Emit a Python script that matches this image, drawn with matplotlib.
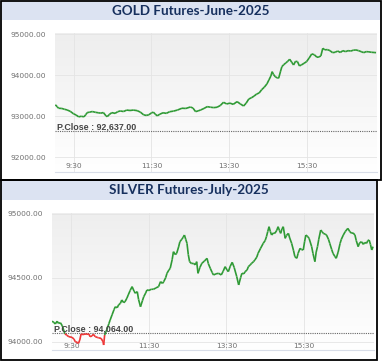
import numpy as np
import matplotlib
matplotlib.use('Agg')
import matplotlib.pyplot as plt
from matplotlib.collections import LineCollection
from matplotlib.patches import Rectangle

# minutes after 9:00
gold_t = [2, 5, 7, 12, 16, 20, 25, 30, 34, 38, 42, 46, 49, 51, 55, 59, 64, 68, 72, 76,
          80, 82, 85, 89, 94, 98, 102, 107, 112, 117, 122, 128, 133, 138, 142, 146, 150,
          153, 156, 159, 163, 168, 173, 178, 184, 190, 197, 203, 210, 214, 218, 222, 226,
          231, 236, 241, 246, 251, 256, 261, 266, 271, 276, 282, 287, 292, 296, 300, 304,
          308, 312, 316, 320, 324, 328, 331, 334, 336, 338, 341, 344, 346, 349, 351, 354,
          357, 360, 363, 366, 369, 372, 375, 378, 381, 385, 389, 393, 397, 401, 405, 408,
          411, 414, 417, 421, 425, 429, 433, 437, 441, 445, 449, 453, 457, 461, 465, 469,
          473, 477, 481, 485, 489, 493, 496]
gold_v = [93280, 93230, 93195, 93190, 93170, 93154, 93120, 93060, 93030, 92985, 93000,
          92985, 93040, 93088, 93100, 93115, 93095, 93085, 93075, 93090, 93010, 92990,
          93040, 93088, 93070, 93110, 93129, 93115, 93150, 93140, 93150, 93137, 93100,
          93035, 93020, 93035, 93080, 93100, 93050, 93010, 93050, 93085, 93070, 93110,
          93125, 93150, 93195, 93190, 93225, 93200, 93113, 93130, 93154, 93190, 93234,
          93220, 93210, 93219, 93260, 93340, 93300, 93320, 93290, 93356, 93300, 93250,
          93320, 93420, 93450, 93490, 93540, 93568, 93650, 93710, 93790, 93885, 93980,
          94088, 94020, 93960, 93935, 93927, 94100, 94210, 94260, 94300, 94340, 94390,
          94320, 94250, 94340, 94332, 94227, 94251, 94290, 94332, 94420, 94520, 94500,
          94439, 94445, 94471, 94658, 94620, 94625, 94600, 94551, 94560, 94590, 94555,
          94600, 94575, 94600, 94590, 94610, 94617, 94600, 94576, 94551, 94576, 94570,
          94560, 94555, 94551]
gold_close = 92637

silver_t = [0, 3, 5, 8, 10, 13, 16, 18, 20, 23, 26, 31, 34, 36, 39, 41, 43, 45, 48, 51,
            54, 57, 59, 62, 64, 67, 70, 72, 76, 79, 80, 81.5, 83.5, 85, 88, 90, 93, 96, 98,
            101, 103, 106, 108, 111, 113, 116, 118, 121, 124, 127, 129, 132, 134, 137, 140,
            142, 145, 147, 150, 154, 157, 161, 165, 168, 171, 173, 176, 178, 181, 183, 186,
            188, 191, 193, 196, 198, 201, 203, 205, 207, 209, 211, 213, 216, 219, 222, 224,
            226, 229, 232, 236, 240, 242, 245, 248, 250, 254, 258, 262, 265, 268, 271, 273,
            276, 279, 282, 286, 289, 292, 294, 297, 299, 302, 304, 307, 309, 312, 314, 317,
            319, 323, 327, 330, 332, 334, 336, 338, 340, 343, 345, 348, 350, 352, 354, 356,
            358, 361, 363, 366, 368, 371, 374, 376, 379, 381, 384, 386, 389, 391, 393, 396,
            398, 402, 404, 407, 409, 411, 413, 416, 418, 420, 423, 425, 428, 430, 433, 435,
            438, 440, 443, 446, 448, 451, 454, 458, 461, 464, 466, 469, 471, 474, 476, 479,
            482, 484, 487, 489, 491, 493, 495, 497]
silver_v = [94160, 94150, 94138, 94160, 94143, 94148, 94123, 94091, 94062, 94050, 94039,
            94034, 94020, 94000, 93995, 93987, 94013, 94060, 94055, 94060, 94058, 94060,
            94039, 94045, 94058, 94039, 94034, 94030, 94026, 94000, 93974, 94052, 94078,
            94095, 94140, 94169, 94210, 94250, 94273, 94265, 94287, 94300, 94326, 94305,
            94312, 94340, 94365, 94400, 94430, 94395, 94378, 94391, 94330, 94273, 94320,
            94351, 94380, 94404, 94400, 94410, 94409, 94420, 94430, 94469, 94455, 94469,
            94500, 94534, 94560, 94573, 94640, 94703, 94680, 94690, 94740, 94781, 94800,
            94815, 94833, 94800, 94768, 94680, 94625, 94610, 94612, 94600, 94625, 94534,
            94580, 94612, 94630, 94651, 94610, 94573, 94540, 94521, 94530, 94534, 94521,
            94550, 94586, 94560, 94547, 94590, 94620, 94580, 94508, 94443, 94500, 94534,
            94530, 94547, 94560, 94586, 94600, 94612, 94625, 94638, 94660, 94690, 94730,
            94768, 94790, 94820, 94860, 94898, 94860, 94833, 94850, 94846, 94870, 94898,
            94870, 94846, 94880, 94898, 94807, 94830, 94846, 94810, 94768, 94710, 94664,
            94651, 94690, 94729, 94720, 94716, 94780, 94833, 94820, 94807, 94742, 94690,
            94625, 94700, 94742, 94800, 94872, 94860, 94846, 94840, 94833, 94800, 94768,
            94720, 94690, 94665, 94651, 94700, 94768, 94800, 94833, 94860, 94885, 94860,
            94846, 94850, 94833, 94790, 94742, 94770, 94781, 94760, 94775, 94768, 94790,
            94794, 94760, 94716, 94742]
silver_close = 94064

x_ticks = [30, 150, 270, 390]
x_labels = ['9:30', '11:30', '13:30', '15:30']
gold_yticks = [92000, 93000, 94000, 95000]
silver_yticks = [94000, 94500, 95000]

W, H = 383, 362
GREEN = '#2f9a35'
RED = '#ee3535'


def px_box(l, t, r, b):
    # pixel box (from top-left) -> figure fraction rect
    return [l / W, 1 - b / H, (r - l) / W, (b - t) / H]


def panel(fig, title, box, bar, t, v, close, yticks, ylim, xlim, xpad):
    fig.add_artist(Rectangle((bar[0] / W, 1 - bar[3] / H), (bar[2] - bar[0]) / W,
                             (bar[3] - bar[1]) / H, transform=fig.transFigure,
                             facecolor='#dce3f2', edgecolor='none', zorder=0))
    fig.text((bar[0] + bar[2]) / 2 / W, 1 - (bar[1] + bar[3]) / 2 / H, title,
             ha='center', va='center', fontsize=9.7, fontweight='bold',
             family='Lato', color='#17305e')

    ax = fig.add_axes(px_box(*box))
    grad = np.linspace(0, 1, 256).reshape(-1, 1)
    cmap = matplotlib.colors.LinearSegmentedColormap.from_list('bg', ['#eeeeee', '#ffffff'])
    ax.imshow(grad, extent=[0, 1, 0, 1], transform=ax.transAxes, aspect='auto',
              cmap=cmap, zorder=0, origin='upper')

    pts = np.column_stack([t, v])
    segs = np.stack([pts[:-1], pts[1:]], axis=1)
    mid = (np.array(v[:-1]) + np.array(v[1:])) / 2
    cols = [RED if m < close else GREEN for m in mid]
    ax.add_collection(LineCollection(segs, colors=cols, linewidths=1.2, zorder=3))

    ax.axhline(close, color='#666666', linestyle=(0, (1, 1)), linewidth=0.8, zorder=2)
    ax.text(xlim[0] + 3, close, 'P.Close : {:,.2f}'.format(close), family='Liberation Sans',
            fontweight='bold', fontsize=6.4, color='#444444', va='bottom', ha='left',
            zorder=4)

    ax.set_xlim(*xlim)
    ax.set_ylim(*ylim)
    ax.set_xticks(x_ticks)
    ax.set_xticklabels(x_labels)
    ax.set_yticks(yticks)
    ax.set_yticklabels(['{:.2f}'.format(y) for y in yticks])
    ax.grid(True, color='#e4e4e4', linewidth=0.6, zorder=1)
    ax.set_axisbelow(True)
    for s in ['top', 'right', 'left']:
        ax.spines[s].set_visible(False)
    ax.spines['bottom'].set_color('#d8dde8')
    ax.spines['bottom'].set_linewidth(0.8)
    ax.tick_params(axis='both', length=0, labelsize=5.4, labelcolor='#707070')
    ax.tick_params(axis='y', pad=6.5)
    ax.tick_params(axis='x', pad=xpad)
    return ax


def main():
    fig = plt.figure(figsize=(W / 100, H / 100), dpi=100)

    panel(fig, 'GOLD Futures-June-2025', (55, 33, 377, 172), (2, 2, 380, 20),
          gold_t, gold_v, gold_close, gold_yticks, (91640, 95030), (1.5, 497.5), -6.3)
    panel(fig, 'SILVER Futures-July-2025', (52, 213, 374, 350), (1, 181, 376, 200),
          silver_t, silver_v, silver_close, silver_yticks, (93935, 95005), (0, 498.5), -5)

    # panel borders
    for l, t, r, b in [(0.5, 0.5, 381, 180), (0.5, 180, 377, 360)]:
        fig.add_artist(Rectangle((l / W, 1 - b / H), (r - l) / W, (b - t) / H,
                                 transform=fig.transFigure, facecolor='none',
                                 edgecolor='black', linewidth=1.3, zorder=10))

    fig.savefig('out.png', dpi=100)


if __name__ == '__main__':
    main()
